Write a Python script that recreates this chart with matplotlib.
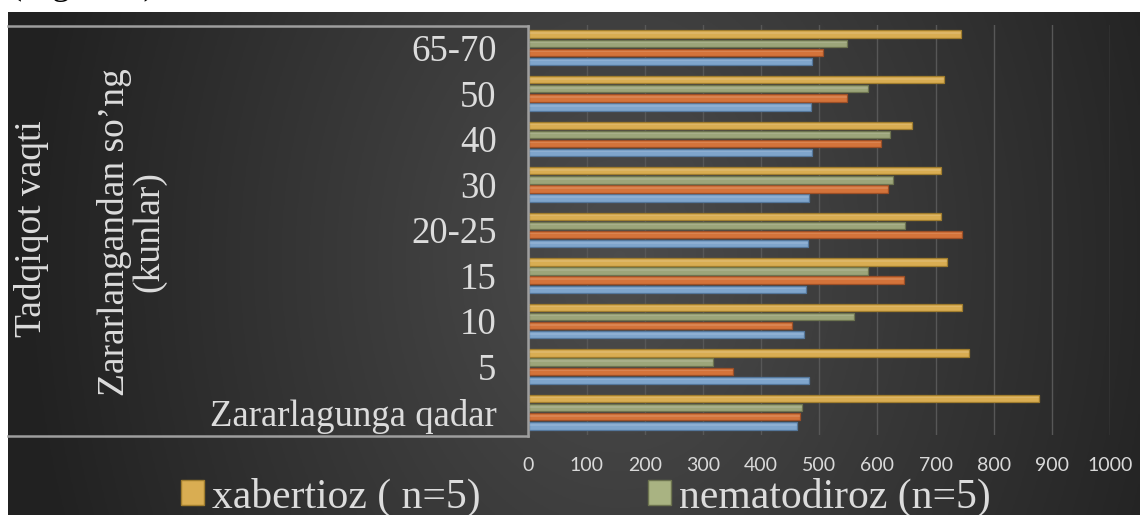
import numpy as np
import matplotlib
matplotlib.use('Agg')
import matplotlib.pyplot as plt
from matplotlib.patches import Patch
from matplotlib.lines import Line2D

# data (bottom -> top)
categories = ['Zararlagunga qadar', '5', '10', '15', '20-25', '30', '40', '50', '65-70']
blue_vals = [462, 483, 474, 477, 481, 483, 487, 486, 488]
orange_vals = [467, 351, 453, 646, 745, 619, 607, 547, 506]
green_vals = [470, 318, 560, 584, 647, 627, 622, 584, 548]
gold_vals = [878, 757, 746, 719, 709, 709, 660, 714, 743]
xticks = [0, 100, 200, 300, 400, 500, 600, 700, 800, 900, 1000]

label_gold = 'xabertioz ( n=5)'
label_green = 'nematodiroz (n=5)'

W, H = 1140, 515
fig = plt.figure(figsize=(W / 100, H / 100), dpi=100)
fig.patch.set_facecolor('white')

# cropped caption above the chart (only its lower edge shows)
fig.text(10 / W, 1 + 6 / H, '(Figure 1).', family='Liberation Serif', fontsize=26,
         color='black', va='baseline', zorder=1)

# dark radial background
bg = fig.add_axes([8 / W, 0, 1 - 8 / W, (H - 12) / H], zorder=4)
gx, gy = np.meshgrid(np.linspace(8, W, 400), np.linspace(12, H, 200))
d = np.sqrt(((gx - 620) / 600) ** 2 + ((gy - 260) / 800) ** 2)
shade = np.clip(0.30 - 0.17 * d, 0.13, 0.32)
bg.imshow(np.dstack([shade, shade, shade]), extent=[0, 1, 0, 1], aspect='auto')
bg.axis('off')

# main axes
ax = fig.add_axes([528.5 / W, 1 - 435 / H, 581.5 / W, 410 / H], zorder=5)
ax.patch.set_alpha(0)
y = np.arange(len(categories))
h = 0.16
series = [(blue_vals, -0.3, '#7fa5cc', '#55779b'),
          (orange_vals, -0.1, '#d4733a', '#9c4f27'),
          (green_vals, 0.1, '#9ca57a', '#6d7450'),
          (gold_vals, 0.3, '#d9ad52', '#a07d2e')]
for vals, off, col, edge in series:
    ax.barh(y + off, vals, height=h, color=col, edgecolor=edge, linewidth=0.9, zorder=3)
    # thin highlight to give the bevel look
    ax.barh(y + off + h * 0.12, vals, height=h * 0.22, color='white', alpha=0.12,
            linewidth=0, zorder=4)

ax.set_xlim(0, 1000)
ax.set_ylim(-0.5, len(categories) - 0.5)
ax.set_xticks(xticks)
ax.set_xticklabels([str(t) for t in xticks], family='Lato', fontsize=14, color='#d9d9d9')
ax.set_yticks(y)
ax.set_yticklabels(categories, family='Liberation Serif', fontsize=26.5, color='#dcdcdc')
ax.tick_params(axis='x', length=0, pad=16)
ax.tick_params(axis='y', length=0, pad=23)
ax.grid(axis='x', color='#575757', linewidth=1.0, zorder=0)
for s in ax.spines.values():
    s.set_visible(False)

# framed box round the category labels
box_col = '#9e9e9e'
for xs, ys in [([8, 528], [25.5, 25.5]), ([8, 528], [436, 436]), ([528, 528], [25.5, 436])]:
    fig.add_artist(Line2D([x / W for x in xs], [1 - v / H for v in ys], color=box_col,
                          linewidth=1.8, zorder=6))

fig.text(32 / W, 1 - 229 / H, 'Tadqiqot vaqti', rotation=90, family='Liberation Serif',
         fontsize=27, color='#dcdcdc', ha='center', va='center', zorder=6)
fig.text(132 / W, 1 - 232 / H, 'Zararlangandan so\u2019ng\n(kunlar)', rotation=90,
         family='Liberation Serif', fontsize=27, color='#dcdcdc', ha='center', va='center',
         multialignment='center', linespacing=1.0, zorder=6)

handles = [Patch(facecolor='#d9ad52', edgecolor='#a07d2e', label=label_gold),
           Patch(facecolor='#a9b382', edgecolor='#6d7450', label=label_green)]
leg = fig.legend(handles=handles, loc='center', bbox_to_anchor=(586 / W, 1 - 497 / H),
                 ncol=2, frameon=False, handlelength=0.55, handleheight=0.55,
                 handletextpad=0.2, columnspacing=4.0, borderpad=0,
                 prop={'family': 'Liberation Serif', 'size': 30})
for t in leg.get_texts():
    t.set_color('#dcdcdc')
leg.set_zorder(6)

fig.savefig('out.png', dpi=100)
